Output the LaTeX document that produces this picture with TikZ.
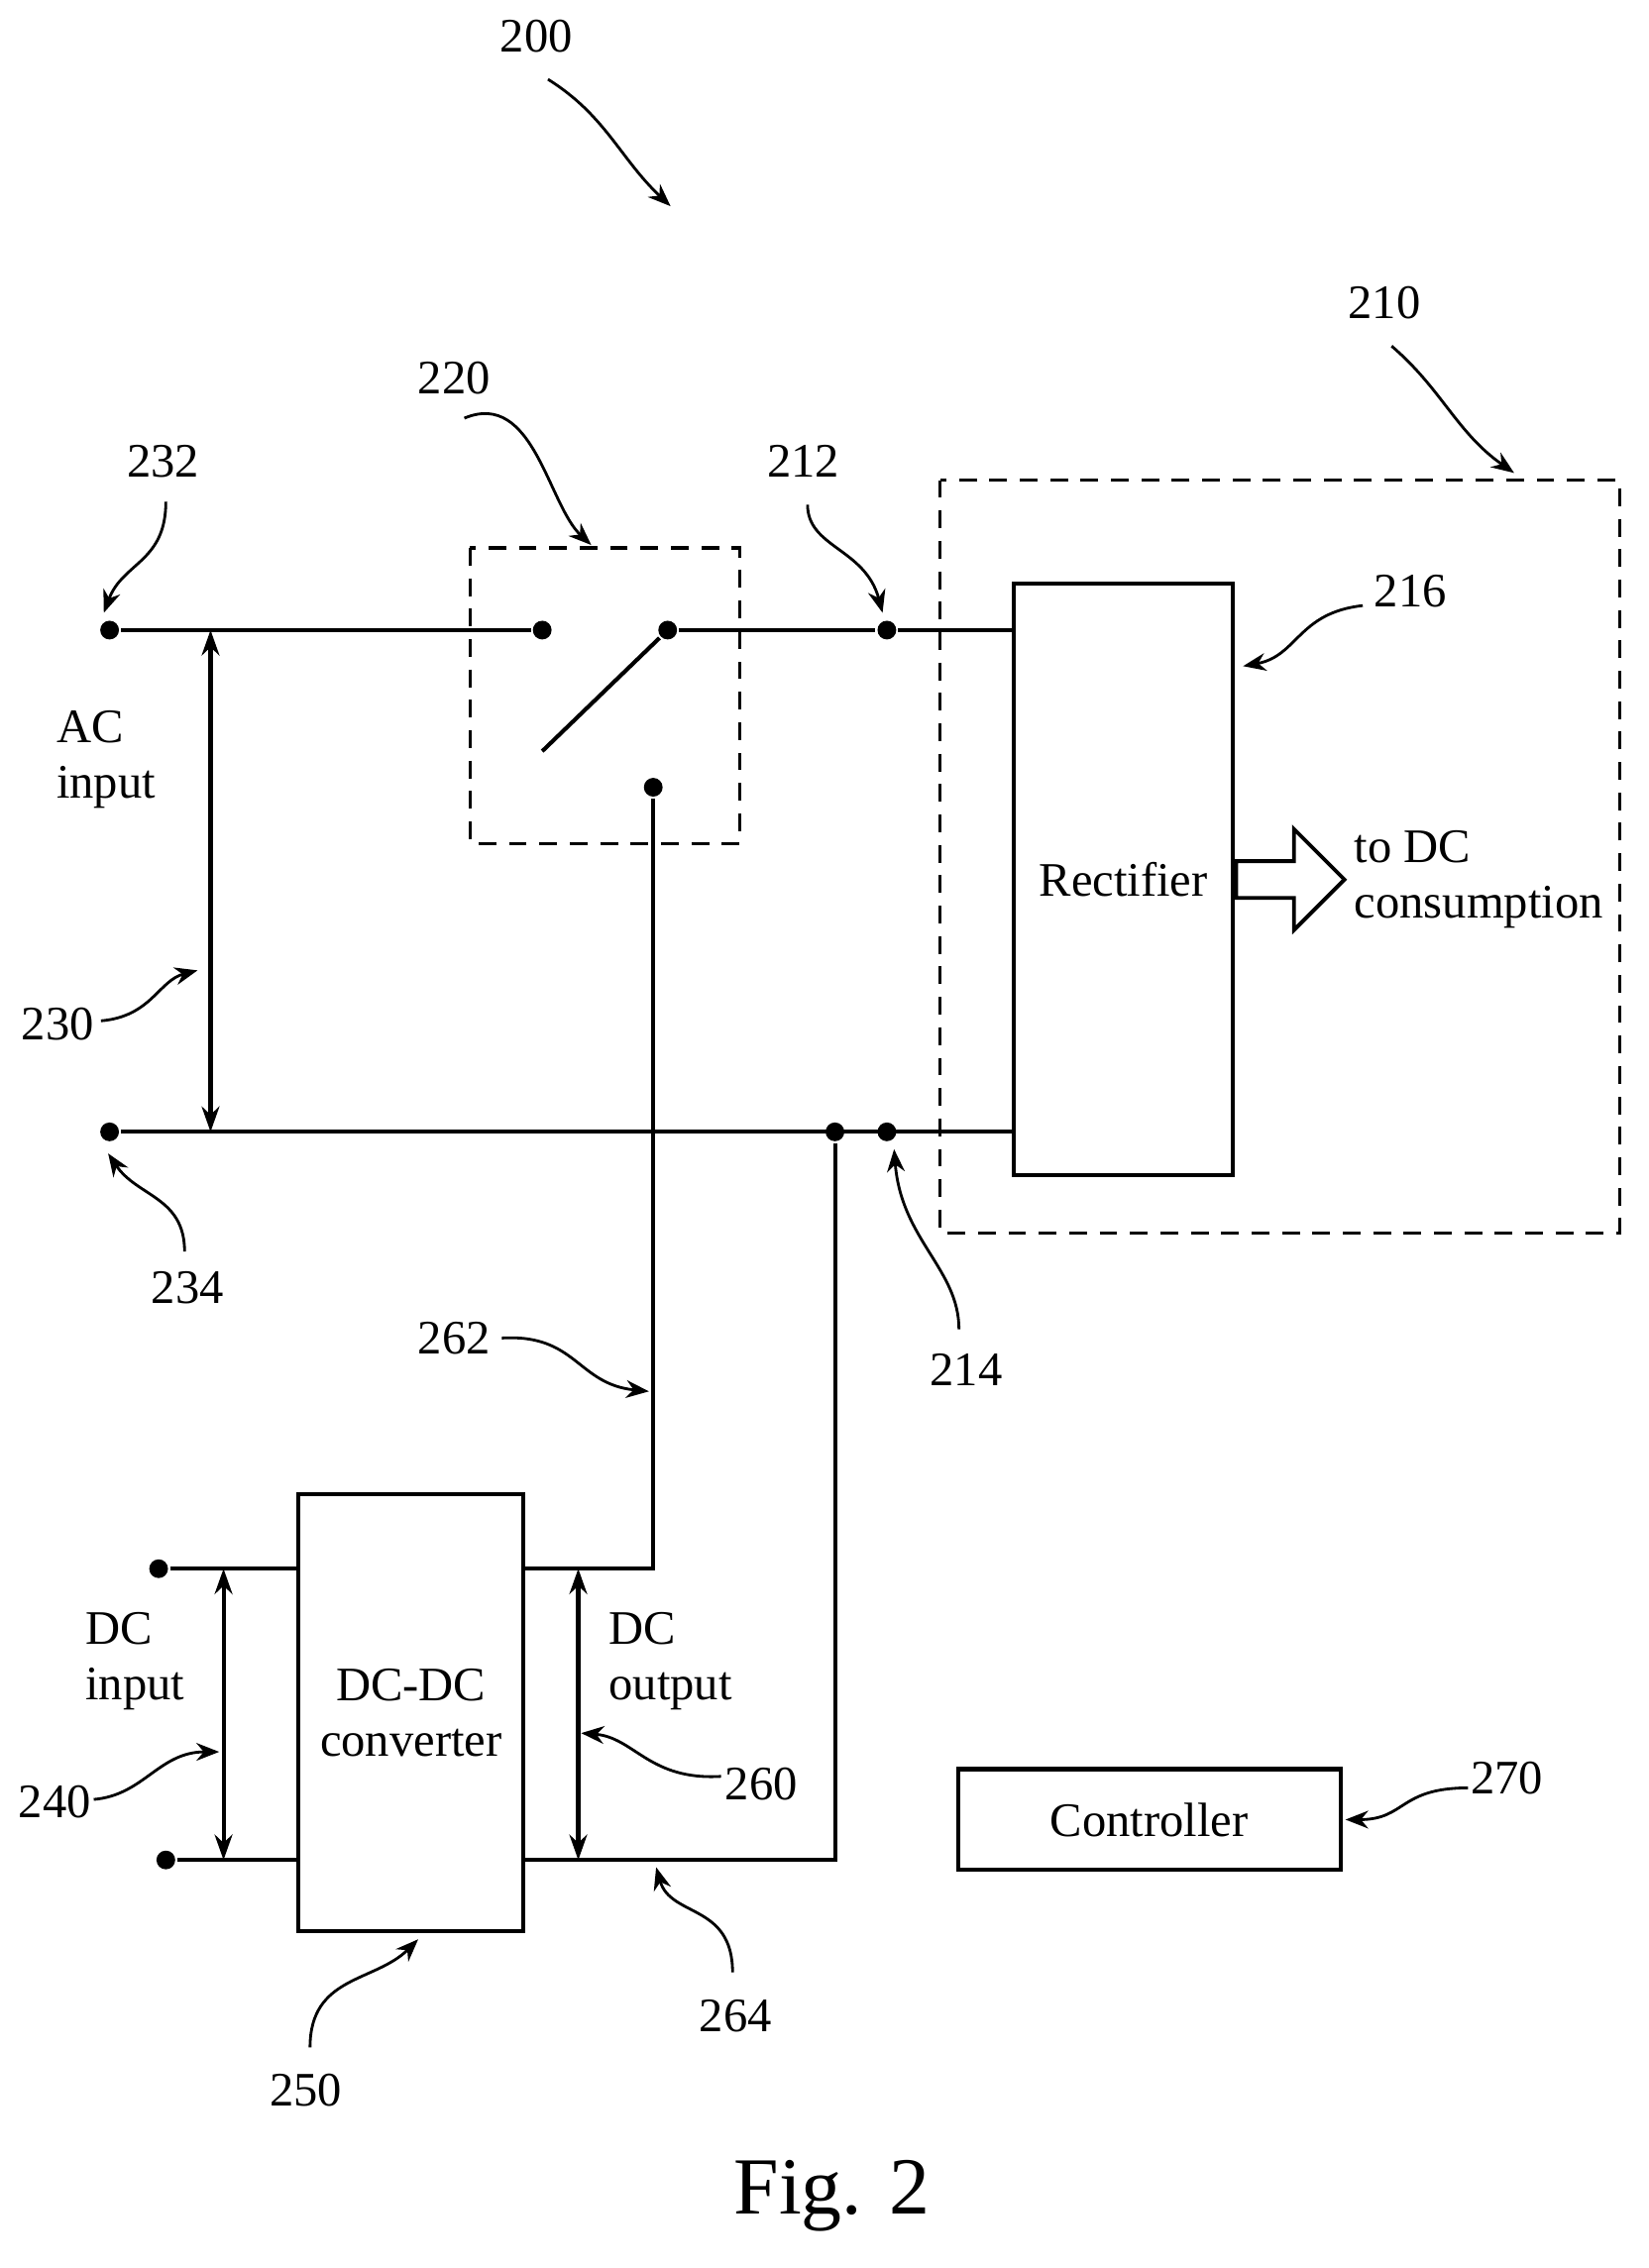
\documentclass[tikz,border=0pt]{standalone}
\usepackage{fontspec}
\setmainfont{Liberation Serif}
\usetikzlibrary{arrows.meta,shapes.arrows}
\begin{document}
\begin{tikzpicture}[x=0.02cm,y=-0.02cm,line width=1.6pt,
  dot/.style={circle,fill,inner sep=0pt,minimum size=0.26cm},
  lead/.style={line width=1.1pt,-{Stealth[length=9pt,width=7pt]}},
  dbl/.style={line width=1.6pt,{Stealth[length=10pt,width=7pt]}-{Stealth[length=10pt,width=7pt]}},
  lbl/.style={font=\fontsize{19}{22}\selectfont},
  box/.style={draw,line width=1.6pt},
  dbox/.style={draw,line width=1.3pt,dash pattern=on 7pt off 5pt}]
\useasboundingbox (0,0) rectangle (1143,1573);
% nodes
\node[dot] (d232) at (76,437) {};
\node[dot] (s1) at (376,437) {};
\node[dot] (s2) at (463,437) {};
\node[dot] (s3) at (453,546) {};
\node[dot] (d212) at (615,437) {};
\node[dot] (d234) at (76,785) {};
\node[dot] (d579) at (579,785) {};
\node[dot] (d214) at (615,785) {};
\node[dot] (di1) at (110,1088) {};
\node[dot] (di2) at (115,1290) {};
\coordinate (blade) at (376,521);
\node[box,minimum width=152*0.02cm,minimum height=410*0.02cm,lbl] (rect) at (779,610) {Rectifier};
\node[box,minimum width=156*0.02cm,minimum height=303*0.02cm,lbl,align=center] (conv) at (285,1188) {DC-DC\\converter};
\node[box,minimum width=265*0.02cm,minimum height=70*0.02cm,lbl] (ctrl) at (797,1262) {Controller};
\draw[dbox] (326,380) rectangle (513,585);
\draw[dbox] (652,333) rectangle (1123,855);
% wires
\draw (d232) -- (s1);
\draw (s2) -- (d212) -- (703,437);
\draw (blade) -- (s2);
\draw (s3) -- (453,1088) -- (363,1088);
\draw (d234) -- (703,785);
\draw (d579) -- (579,1290) -- (363,1290);
\draw (di1) -- (207,1088);
\draw (di2) -- (207,1290);
\draw[dbl] (146,437) -- (146,785);
\draw[dbl] (155,1088) -- (155,1290);
\draw[dbl] (401,1088) -- (401,1290);
\node[draw,line width=1.5pt,single arrow,minimum height=75*0.02cm,minimum width=70*0.02cm,single arrow head extend=0.25cm,anchor=tail] (ha) at (856,610) {};
% texts
\node[lbl,align=left,anchor=west] (tac) at (32,527) {AC\\input};
\node[lbl,align=left,anchor=west] (tdc) at (932,610) {to DC\\consumption};
\node[lbl,align=left,anchor=west] (tdi) at (52,1152) {DC\\input};
\node[lbl,align=left,anchor=west] (tdo) at (415,1152) {DC\\output};
\node[font=\fontsize{32}{36}\selectfont] (fig) at (577,1523) {Fig. 2};
% labels
\foreach \t/\x/\y in {200/372/25,210/960/210,220/315/262,232/113/320,212/557/320,216/978/410,230/40/710,234/130/893,214/670/950,262/315/928,240/38/1250,260/528/1237,250/212/1450,264/510/1398,270/1045/1233}
  \node[lbl] (l\t) at (\x,\y) {\t};
\draw[lead] (380,55) .. controls (420,80) and (430,110) .. (465,143);
\draw[lead] (965,240) .. controls (1000,270) and (1010,300) .. (1050,328);
\draw[lead] (322,290) .. controls (370,270) and (380,350) .. (410,378);
\draw[lead] (115,348) .. controls (115,390) and (85,390) .. (72,425);
\draw[lead] (560,350) .. controls (560,380) and (600,380) .. (612,425);
\draw[lead] (945,420) .. controls (900,425) and (900,455) .. (862,462);
\draw[lead] (70,708) .. controls (105,705) and (110,680) .. (137,673);
\draw[lead] (128,868) .. controls (128,830) and (95,830) .. (75,800);
\draw[lead] (665,922) .. controls (665,880) and (625,860) .. (620,797);
\draw[lead] (348,928) .. controls (400,925) and (400,960) .. (450,965);
\draw[lead] (65,1248) .. controls (100,1245) and (110,1215) .. (152,1215);
\draw[lead] (500,1232) .. controls (450,1235) and (440,1205) .. (403,1202);
\draw[lead] (215,1420) .. controls (215,1370) and (260,1375) .. (290,1345);
\draw[lead] (508,1368) .. controls (508,1320) and (465,1330) .. (455,1295);
\draw[lead] (1018,1240) .. controls (970,1240) and (975,1262) .. (933,1262);
\end{tikzpicture}
\end{document}
